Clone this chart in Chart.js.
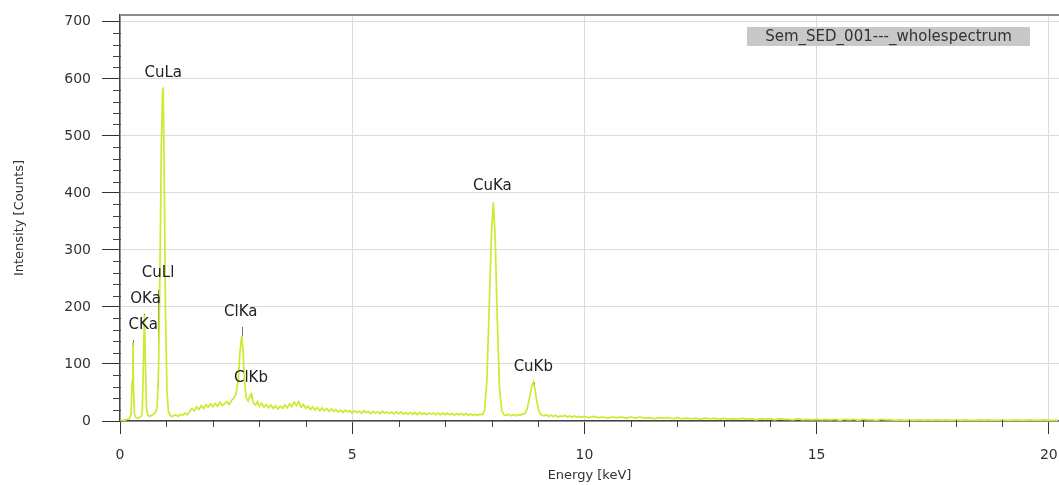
<!DOCTYPE html>
<html>
<head>
<meta charset="utf-8">
<script src="https://cdn.jsdelivr.net/npm/chart.js@4.4.1/dist/chart.umd.min.js"></script>
<style>
html,body{margin:0;padding:0;background:#fff;}
#wrap{width:1059px;height:485px;}
</style>
</head>
<body>
<div id="wrap"><canvas id="c" width="1059" height="485"></canvas></div>
<script>
// ---------- DATA ----------
const seriesName = 'Sem_SED_001---_wholespectrum';

const energyKeV = [
  0.00,0.04,0.08,0.12,0.16,0.20,0.24,0.26,0.277,0.29,
  0.31,0.34,0.38,0.42,0.46,0.48,0.50,0.525,0.55,0.57,
  0.60,0.64,0.68,0.72,0.76,0.80,0.83,0.86,0.89,0.915,
  0.93,0.95,0.98,1.01,1.04,1.08,1.12,1.15,1.20,1.25,
  1.30,1.35,1.40,1.45,1.50,1.55,1.60,1.65,1.70,1.75,
  1.80,1.85,1.90,1.95,2.00,2.05,2.10,2.15,2.20,2.25,
  2.30,2.35,2.40,2.45,2.50,2.55,2.58,2.62,2.65,2.68,
  2.72,2.76,2.80,2.83,2.87,2.92,2.96,3.00,3.05,3.10,
  3.15,3.20,3.25,3.30,3.35,3.40,3.45,3.50,3.55,3.60,
  3.65,3.70,3.75,3.80,3.85,3.90,3.95,4.00,4.05,4.10,
  4.15,4.20,4.25,4.30,4.35,4.40,4.45,4.50,4.55,4.60,
  4.65,4.70,4.75,4.80,4.85,4.90,4.95,5.00,5.05,5.10,
  5.15,5.20,5.25,5.30,5.35,5.40,5.45,5.50,5.55,5.60,
  5.65,5.70,5.75,5.80,5.85,5.90,5.95,6.00,6.05,6.10,
  6.15,6.20,6.25,6.30,6.35,6.40,6.45,6.50,6.55,6.60,
  6.65,6.70,6.75,6.80,6.85,6.90,6.95,7.00,7.05,7.10,
  7.15,7.20,7.25,7.30,7.35,7.40,7.45,7.50,7.55,7.60,
  7.65,7.70,7.75,7.80,7.85,7.90,7.95,8.00,8.04,8.08,
  8.12,8.17,8.22,8.27,8.32,8.37,8.42,8.47,8.52,8.57,
  8.62,8.67,8.72,8.77,8.82,8.87,8.90,8.94,8.98,9.03,
  9.08,9.13,9.18,9.23,9.28,9.33,9.38,9.43,9.48,9.53,
  9.58,9.63,9.68,9.73,9.78,9.83,9.88,9.93,9.98,10.1,
  10.2,10.3,10.4,10.5,10.6,10.7,10.8,10.9,11.0,11.1,
  11.2,11.3,11.4,11.5,11.6,11.7,11.8,11.9,12.0,12.1,
  12.2,12.3,12.4,12.5,12.6,12.7,12.8,12.9,13.0,13.1,
  13.2,13.3,13.4,13.5,13.6,13.7,13.8,13.9,14.0,14.1,
  14.2,14.3,14.4,14.5,14.6,14.7,14.8,14.9,15.0,15.1,
  15.2,15.3,15.4,15.5,15.6,15.7,15.8,15.9,16.0,16.1,
  16.2,16.3,16.4,16.5,16.6,16.7,16.8,16.9,17.0,17.1,
  17.2,17.3,17.4,17.5,17.6,17.7,17.8,17.9,18.0,18.1,
  18.2,18.3,18.4,18.5,18.6,18.7,18.8,18.9,19.0,19.1,
  19.2,19.3,19.4,19.5,19.6,19.7,19.8,19.9,20.0,20.1,
  20.2
];

const counts = [
  0,0,1,2,3,4,12,70,138,60,
  12,6,5,6,9,18,80,186,95,22,
  10,8,10,12,14,24,90,260,480,575,
  585,450,190,55,18,10,8,9,11,8,
  12,10,14,11,17,22,18,25,20,27,
  22,29,24,30,25,31,26,33,27,30,
  34,29,36,40,48,75,118,150,122,70,
  40,35,45,48,32,28,34,26,31,24,
  29,23,28,22,27,21,26,22,28,23,
  30,25,33,27,34,24,29,22,26,20,
  25,19,24,18,23,18,22,17,21,17,
  20,16,19,15,19,16,18,14,18,15,
  17,14,18,15,17,13,17,14,16,13,
  17,14,16,13,16,12,16,13,16,12,
  15,12,15,12,15,11,15,12,14,11,
  14,12,14,11,14,11,14,11,14,11,
  13,10,13,11,13,10,13,10,12,10,
  12,10,12,11,18,70,200,330,384,320,
  190,60,18,11,10,12,9,11,9,11,
  10,12,13,22,42,62,68,55,32,15,
  10,9,11,8,10,8,10,7,9,8,
  10,7,9,7,9,7,8,6,8,6,
  8,6,7,5,7,6,7,5,7,5,
  7,5,6,4,6,5,6,4,6,4,
  5,4,5,3,5,4,5,3,5,3,
  4,3,5,3,4,2,4,3,4,2,
  4,3,3,2,4,2,3,2,3,2,
  3,2,3,1,3,2,3,1,3,2,
  2,1,3,2,2,1,2,1,2,1,
  2,1,2,1,2,1,2,1,2,1,
  2,1,1,2,1,2,1,1,2,1,
  1,2,1,1,2,1,1,2,1,1,
  1
];

const xTickValues = [0, 5, 10, 15, 20];
const yTickValues = [0, 100, 200, 300, 400, 500, 600, 700];
const xMinorStep = 1;
const yMinorStep = 20;

const peakNames       = ['CKa', 'OKa', 'CuLl', 'CuLa', 'ClKa', 'ClKb', 'CuKa', 'CuKb'];
const peakLabelKeV    = [0.50, 0.55, 0.82, 0.93, 2.60, 2.82, 8.02, 8.90];
const peakLabelCounts = [168, 214, 259, 610, 191, 75, 412, 95];
const markerKeV       = [0.277, 0.525, 0.811, 0.930, 2.622, 2.815, 8.040, 8.905];
const markerTop       = [142, 188, 230, 583, 165, 48, 384, 68];
const markerBottom    = [132, 178, 60, 570, 148, 40, 372, 62];

// ---------- CHART ----------
const FONT = 'DejaVu Sans';
const TXT = '#333333';

const decor = {
  id: 'decor',
  beforeDatasetsDraw(chart) {
    const { ctx, scales: { x, y } } = chart;
    ctx.save();
    ctx.strokeStyle = '#707070';
    ctx.lineWidth = 1;
    markerKeV.forEach((e, i) => {
      const px = Math.round(x.getPixelForValue(e)) + 0.5;
      ctx.beginPath();
      ctx.moveTo(px, y.getPixelForValue(markerTop[i]));
      ctx.lineTo(px, y.getPixelForValue(markerBottom[i]));
      ctx.stroke();
    });
    ctx.restore();
  },
  afterDraw(chart) {
    const { ctx, chartArea: a, scales: { x, y } } = chart;
    ctx.save();
    // top frame
    ctx.strokeStyle = '#8c8c8c';
    ctx.lineWidth = 2;
    ctx.beginPath();
    ctx.moveTo(a.left, a.top);
    ctx.lineTo(a.right, a.top);
    ctx.stroke();
    // minor ticks
    ctx.strokeStyle = '#444';
    ctx.lineWidth = 1;
    for (let v = yMinorStep; v < y.max; v += yMinorStep) {
      if (v % 100 === 0) continue;
      const py = Math.round(y.getPixelForValue(v)) + 0.5;
      ctx.beginPath(); ctx.moveTo(a.left - 7, py); ctx.lineTo(a.left + 1, py); ctx.stroke();
    }
    for (let v = xMinorStep; v < x.max; v += xMinorStep) {
      if (v % 5 === 0) continue;
      const px = Math.round(x.getPixelForValue(v)) + 0.5;
      ctx.beginPath(); ctx.moveTo(px, a.bottom - 1); ctx.lineTo(px, a.bottom + 6); ctx.stroke();
    }
    // peak labels
    ctx.fillStyle = '#222';
    ctx.font = '15px "' + FONT + '"';
    ctx.textAlign = 'center';
    ctx.textBaseline = 'middle';
    peakNames.forEach((n, i) => {
      ctx.fillText(n, x.getPixelForValue(peakLabelKeV[i]), y.getPixelForValue(peakLabelCounts[i]));
    });
    // legend box
    const bw = 283, bh = 19;
    const bx = a.right - 29 - bw, by = a.top + 12;
    ctx.fillStyle = '#c8c8c8';
    ctx.fillRect(bx, by, bw, bh);
    ctx.fillStyle = '#333';
    ctx.fillText(seriesName, bx + bw / 2, by + bh / 2 + 0.5);
    ctx.restore();
  }
};

new Chart(document.getElementById('c'), {
  type: 'line',
  data: {
    datasets: [{
      label: seriesName,
      data: energyKeV.map((e, i) => ({ x: e, y: counts[i] })),
      borderColor: '#c8ec30',
      borderWidth: 1.7,
      pointRadius: 0,
      tension: 0,
      fill: false
    }]
  },
  options: {
    responsive: false,
    animation: false,
    devicePixelRatio: 1,
    layout: { padding: { top: 15, right: 0, bottom: 0, left: 0 } },
    plugins: { legend: { display: false }, tooltip: { enabled: false } },
    scales: {
      x: {
        type: 'linear',
        min: 0,
        max: 20.22,
        afterFit(s) { s.height = 64; s.paddingLeft = 0; s.paddingRight = 0; },
        afterBuildTicks(s) { s.ticks = xTickValues.map(v => ({ value: v })); },
        grid: { color: '#dcdcdc', lineWidth: 1, tickLength: 13, tickColor: '#333' },
        border: { color: '#444', width: 1.5 },
        ticks: { font: { family: FONT, size: 14 }, color: TXT, padding: 13, maxRotation: 0, autoSkip: false, includeBounds: false },
        title: { display: true, text: 'Energy [keV]', font: { family: FONT, size: 13 }, color: TXT, padding: { top: 0, bottom: 2 } }
      },
      y: {
        type: 'linear',
        min: 0,
        max: 712,
        afterFit(s) { s.width = 120; s.paddingTop = 0; s.paddingBottom = 0; },
        afterBuildTicks(s) { s.ticks = yTickValues.map(v => ({ value: v })); },
        grid: { color: '#dcdcdc', lineWidth: 1, tickLength: 18, tickColor: '#333' },
        border: { color: '#444', width: 1.5 },
        ticks: { font: { family: FONT, size: 14 }, color: TXT, padding: 11, includeBounds: false },
        title: { display: true, text: 'Intensity [Counts]', font: { family: FONT, size: 13 }, color: TXT, padding: { top: 12, bottom: 0 } }
      }
    }
  },
  plugins: [decor]
});
</script>
</body>
</html>
